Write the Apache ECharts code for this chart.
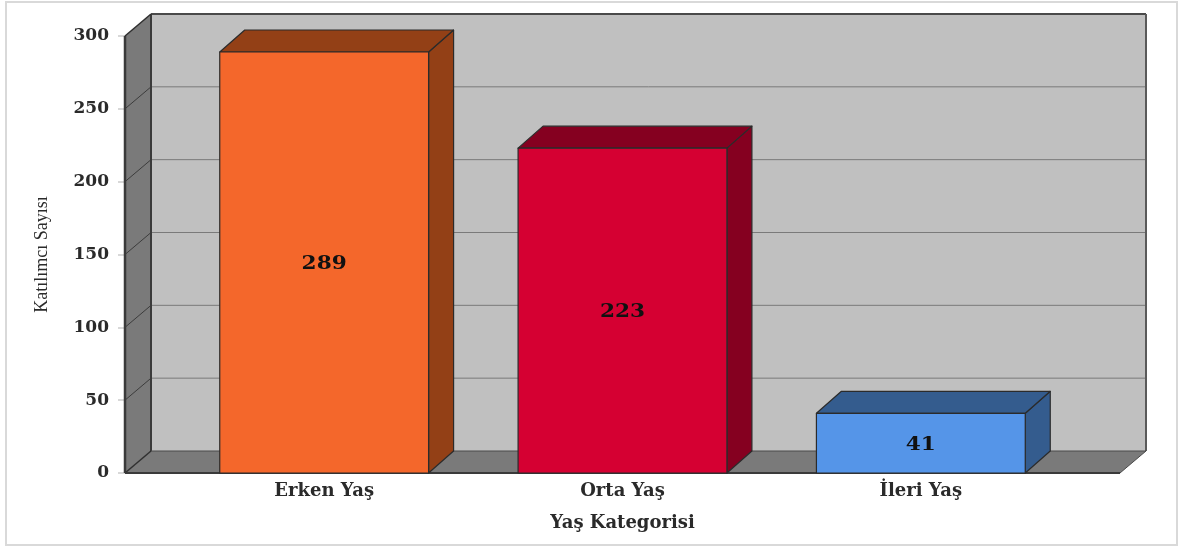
<!DOCTYPE html>
<html lang="tr">
<head>
<meta charset="utf-8">
<title>Yaş Kategorisi</title>
<style>
html,body{margin:0;padding:0;background:#fff}
#chart{width:1179px;height:547px}
</style>
<script src="https://cdn.jsdelivr.net/npm/echarts@6/dist/echarts.min.js"></script>
</head>
<body>
<div id="chart"></div>
<script>
// Participant counts per age category
const categories = ['Erken Yaş', 'Orta Yaş', 'İleri Yaş'];
const participants = [289, 223, 41];
const yTicks = [0, 50, 100, 150, 200, 250, 300];
const yAxisTitle = 'Katılımcı Sayısı';
const xAxisTitle = 'Yaş Kategorisi';

// Front, and shaded top/side, colour of each bar
const frontColors = ['#F4672B', '#D50032', '#5595E8'];
const shadeColors = ['#934016', '#850020', '#345C8E'];

// Oblique projection used for the depth of the walls and the bars
const DEPTH_X = 26;
const DEPTH_Y = -22;
const WALL_PAD = 50;     // the floor extends past the category band on both sides
const BAR_RATIO = 0.7;
const EDGE = '#2b2b2b';
const FONT = '"DejaVu Serif"';

const chart = echarts.init(document.getElementById('chart'), null, { renderer: 'canvas' });

function poly(points, fill, stroke, lineWidth) {
  return {
    type: 'polygon',
    shape: { points },
    style: { fill, stroke: stroke || null, lineWidth: lineWidth || 0, lineJoin: 'round' }
  };
}
function segment(x1, y1, x2, y2, stroke, lineWidth) {
  return { type: 'line', shape: { x1, y1, x2, y2 }, style: { stroke, lineWidth } };
}

// Back wall, side wall, floor and the gridlines running across them
function renderWalls(params, api) {
  const cs = params.coordSys;
  const left = cs.x - WALL_PAD;
  const right = cs.x + cs.width + WALL_PAD;
  const bottom = api.coord([0, yTicks[0]])[1];
  const top = api.coord([0, yTicks[yTicks.length - 1]])[1];
  const bx1 = left + DEPTH_X, bx2 = right + DEPTH_X;
  const by1 = top + DEPTH_Y, by2 = bottom + DEPTH_Y;
  const children = [
    poly([[bx1, by1], [bx2, by1], [bx2, by2], [bx1, by2]], '#C0C0C0'),
    poly([[left, top], [bx1, by1], [bx1, by2], [left, bottom]], '#7A7A7A'),
    poly([[left, bottom], [right, bottom], [bx2, by2], [bx1, by2]], '#7A7A7A')
  ];
  yTicks.slice(1, -1).forEach(t => {
    const y = api.coord([0, t])[1];
    children.push(segment(bx1, y + DEPTH_Y, bx2, y + DEPTH_Y, '#7a7a7a', 1));
    children.push(segment(left, y, bx1, y + DEPTH_Y, '#3c3c3c', 1));
  });
  children.push(
    segment(bx1, by1, bx2, by1, '#4a4a4a', 2),
    segment(bx2, by1, bx2, by2, '#5a5a5a', 2),
    segment(bx1, by1, bx1, by2, '#3a3a3a', 2),
    segment(left, top, left, bottom, '#3a3a3a', 2.5),
    segment(left, top, bx1, by1, '#2f2f2f', 1.5),
    segment(bx1, by2, bx2, by2, '#4a4a4a', 1),
    segment(left, bottom, bx1, by2, '#2f2f2f', 1.5),
    segment(left, bottom, right, bottom, '#3a3a3a', 2),
    segment(right, bottom, bx2, by2, '#4a4a4a', 1)
  );
  return { type: 'group', children };
}

// A bar drawn as a cuboid: front face, top, side and the value in the middle
function renderBar(params, api) {
  const i = params.dataIndex;
  const value = api.value(1);
  const [cx, y] = api.coord([api.value(0), value]);
  const y0 = api.coord([api.value(0), 0])[1];
  const w = api.size([1, 0])[0] * BAR_RATIO;
  const x1 = cx - w / 2, x2 = cx + w / 2;
  const dx = DEPTH_X - 1, dy = DEPTH_Y;
  const labelY = (y + y0) / 2 + 2;
  return {
    type: 'group',
    children: [
      poly([[x2, y], [x2 + dx, y + dy], [x2 + dx, y0 + dy], [x2, y0]], shadeColors[i], EDGE, 1.2),
      poly([[x1, y], [x1 + dx, y + dy], [x2 + dx, y + dy], [x2, y]], shadeColors[i], EDGE, 1.2),
      poly([[x1, y], [x2, y], [x2, y0], [x1, y0]], frontColors[i], EDGE, 1.2),
      {
        type: 'text',
        originX: cx,
        originY: labelY,
        scaleX: 1.2,
        style: {
          text: String(value),
          x: cx,
          y: labelY,
          align: 'center',
          verticalAlign: 'middle',
          fill: '#111',
          font: 'bold 18px ' + FONT
        }
      }
    ]
  };
}

chart.setOption({
  animation: false,
  backgroundColor: '#fff',
  graphic: [{
    type: 'rect',
    silent: true,
    shape: { x: 6, y: 2, width: 1171, height: 543 },
    style: { fill: 'transparent', stroke: '#d9d9d9', lineWidth: 2 }
  }],
  grid: { left: 175, top: 36, width: 895, height: 437 },
  xAxis: {
    type: 'category',
    data: categories,
    axisLine: { show: false },
    axisTick: { show: false },
    axisLabel: { margin: 9, color: '#2a2a2a', fontFamily: FONT, fontWeight: 'bold', fontSize: 18 },
    name: xAxisTitle,
    nameLocation: 'middle',
    nameGap: 41,
    nameTextStyle: { color: '#2a2a2a', fontFamily: FONT, fontWeight: 'bold', fontSize: 18 }
  },
  yAxis: {
    type: 'value',
    min: 0,
    max: 300,
    interval: 50,
    offset: WALL_PAD,
    axisLine: { show: false },
    axisTick: { show: true, length: 7, lineStyle: { color: '#d8d8d8', width: 2 } },
    splitLine: { show: false },
    axisLabel: { margin: 16, color: '#2a2a2a', fontFamily: FONT, fontWeight: 'bold', fontSize: 17, padding: [3, 0, 0, 0] },
    name: yAxisTitle,
    nameLocation: 'middle',
    nameGap: 74,
    nameTextStyle: { color: '#2a2a2a', fontFamily: '"Liberation Serif"', fontSize: 18 }
  },
  series: [
    { type: 'custom', z: 1, silent: true, renderItem: renderWalls, data: [[categories[0], 0]], encode: { x: 0, y: 1 } },
    { type: 'custom', z: 2, silent: true, renderItem: renderBar,
      data: categories.map((c, i) => [c, participants[i]]), encode: { x: 0, y: 1 } }
  ]
});
</script>
</body>
</html>
